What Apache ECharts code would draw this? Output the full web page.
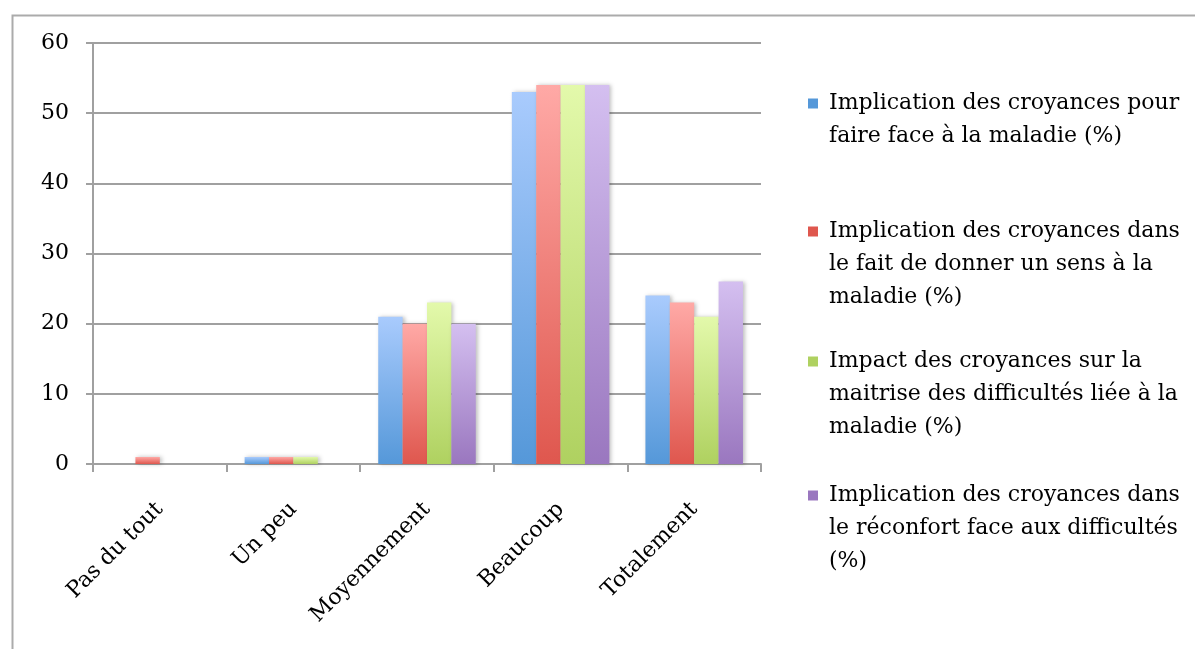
<!DOCTYPE html>
<html>
<head>
<meta charset="utf-8">
<script src="https://cdn.jsdelivr.net/npm/echarts@6/dist/echarts.min.js"></script>
<style>html,body{margin:0;padding:0;background:#fff;}#main{width:1195px;height:649px;}</style>
</head>
<body>
<div id="main"></div>
<script>
var categories = ['Pas du tout', 'Un peu', 'Moyennement', 'Beaucoup', 'Totalement'];
var seriesNames = [
  'Implication des croyances pour faire face à la maladie (%)',
  'Implication des croyances dans le fait de donner un sens à la maladie (%)',
  'Impact des croyances sur la maitrise des difficultés liée à la maladie (%)',
  'Implication des croyances dans le réconfort face aux difficultés (%)'
];
var legendLines = [
  ['Implication des croyances pour', 'faire face à la maladie (%)'],
  ['Implication des croyances dans', 'le fait de donner un sens à la', 'maladie (%)'],
  ['Impact des croyances sur la', 'maitrise des difficultés liée à la', 'maladie (%)'],
  ['Implication des croyances dans', 'le réconfort face aux difficultés', '(%)']
];
var valuesFaireFace = [0, 1, 21, 53, 24];
var valuesSens = [1, 1, 20, 54, 23];
var valuesMaitrise = [0, 1, 23, 54, 21];
var valuesReconfort = [0, 0, 20, 54, 26];
var yTicks = [0, 10, 20, 30, 40, 50, 60];

var allValues = [valuesFaireFace, valuesSens, valuesMaitrise, valuesReconfort];
var topColors = ['#A9CBFD', '#FFA9A6', '#E3F9AB', '#D4BFF0'];
var bottomColors = ['#5598D9', '#DF574E', '#AFD160', '#9A77BF'];
var legendTops = [87, 215, 345, 479];
var FONT = 'DejaVu Serif';
var FS = 22;

function grad(i) {
  return new echarts.graphic.LinearGradient(0, 0, 0, 1, [
    { offset: 0, color: topColors[i] },
    { offset: 1, color: bottomColors[i] }
  ]);
}

var series = allValues.map(function (vals, i) {
  return {
    name: seriesNames[i],
    type: 'bar',
    data: vals,
    barGap: '0%',
    barCategoryGap: '27%',
    itemStyle: {
      color: grad(i),
      shadowBlur: 4,
      shadowOffsetX: 2,
      shadowOffsetY: 0,
      shadowColor: 'rgba(0,0,0,0.25)'
    },
    emphasis: { disabled: true }
  };
});

var legends = seriesNames.map(function (name, i) {
  var rich = {
    sq: { width: 10, height: 10, backgroundColor: bottomColors[i], verticalAlign: 'middle' },
    gap: { width: 11 },
    pad: { width: 21 },
    t: { fontFamily: FONT, fontSize: FS, color: '#000', lineHeight: 33, verticalAlign: 'middle' }
  };
  return {
    data: [name],
    left: 803,
    top: legendTops[i],
    padding: 0,
    icon: 'none',
    itemWidth: 0,
    itemHeight: 0,
    selectedMode: false,
    formatter: function () {
      return legendLines[i].map(function (ln, k) {
        return (k === 0 ? '{sq|}{gap|}' : '{pad|}') + '{t|' + ln + '}';
      }).join('\n');
    },
    textStyle: { fontFamily: FONT, fontSize: FS, color: '#000', lineHeight: 33, rich: rich }
  };
});

var chart = echarts.init(document.getElementById('main'));
chart.setOption({
  animation: false,
  backgroundColor: '#fff',
  graphic: [{
    type: 'rect',
    left: 10, top: 13,
    shape: { width: 1250, height: 700 },
    style: { fill: 'none', stroke: '#ABABAB', lineWidth: 2 },
    silent: true
  }],
  grid: { left: 93, right: 434, top: 43, bottom: 185, containLabel: false },
  legend: legends,
  xAxis: {
    type: 'category',
    data: categories,
    axisLine: { show: true, lineStyle: { color: '#A0A0A0', width: 2 } },
    axisTick: { show: true, alignWithLabel: false, length: 8, lineStyle: { color: '#A0A0A0', width: 2 } },
    axisLabel: { rotate: 45, margin: 42, fontFamily: FONT, fontSize: FS, color: '#000', interval: 0 }
  },
  yAxis: {
    type: 'value',
    min: yTicks[0],
    max: yTicks[yTicks.length - 1],
    interval: 10,
    axisLine: { show: true, lineStyle: { color: '#A0A0A0', width: 2 } },
    axisTick: { show: true, length: 7, lineStyle: { color: '#A0A0A0', width: 2 } },
    axisLabel: { margin: 24, fontFamily: FONT, fontSize: FS, color: '#000' },
    splitLine: { show: true, lineStyle: { color: '#A0A0A0', width: 2 } }
  },
  series: series
});
</script>
</body>
</html>
